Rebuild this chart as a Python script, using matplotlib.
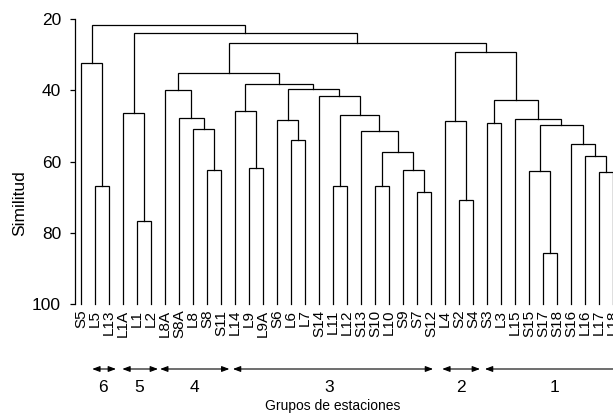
import matplotlib
matplotlib.use("Agg")
import matplotlib.pyplot as plt

plt.rcParams['font.family'] = ['Liberation Sans', 'DejaVu Sans']

# ---- data ----
leaves = ['S5', 'L5', 'L13', 'L1A', 'L1', 'L2', 'L8A', 'S8A', 'L8', 'S8', 'S11',
          'L14', 'L9', 'L9A', 'S6', 'L6', 'L7', 'S14', 'L11', 'L12', 'S13', 'S10',
          'L10', 'S9', 'S7', 'S12', 'L4', 'S2', 'S4', 'S3', 'L3', 'L15', 'S15',
          'S17', 'S18', 'S16', 'L16', 'L17', 'L18']

# merges: (child A, child B, similarity); 'N#' refers to merge number #
merge_a = ['L5', 'S5', 'L1', 'L1A', 'S8', 'L8', 'S8A', 'L8A', 'L9', 'L14',
           'L6', 'S6', 'L11', 'S10', 'S7', 'S9', 'N13', 'S13', 'N12', 'S14',
           'N11', 'N9', 'N7', 'S2', 'L4', 'S3', 'S17', 'S15', 'L17', 'L16',
           'S16', 'N27', 'L15', 'N25', 'N24', 'N22', 'N3', 'N1']
merge_b = ['L13', 'N0', 'L2', 'N2', 'S11', 'N4', 'N5', 'N6', 'L9A', 'N8',
           'L7', 'N10', 'L12', 'L10', 'S12', 'N14', 'N15', 'N16', 'N17', 'N18',
           'N19', 'N20', 'N21', 'S4', 'N23', 'L3', 'S18', 'N26', 'L18', 'N28',
           'N29', 'N30', 'N31', 'N32', 'N33', 'N34', 'N35', 'N36']
merge_h = [66.8, 32.4, 76.6, 46.3, 62.3, 50.8, 47.9, 39.9, 61.7, 45.8,
           53.9, 48.4, 66.8, 66.8, 68.5, 62.3, 57.4, 51.3, 47.0, 41.5,
           39.6, 38.3, 35.1, 70.8, 48.7, 49.3, 85.6, 62.7, 63.0, 58.5,
           55.1, 49.7, 48.2, 42.6, 29.4, 26.6, 23.9, 21.7]

group_names = ['6', '5', '4', '3', '2', '1']
# arrow extents and label positions along the leaf axis (layout)
arrow_spans = [(0.8, 2.5), (2.95, 5.5), (5.65, 10.6), (10.85, 25.15), (25.8, 28.5), (28.85, 40.5)]
group_label_x = [1.6, 4.15, 8.1, 17.7, 27.15, 33.85]

yticks = [20, 40, 60, 80, 100]

# ---- figure ----
W, H = 613, 418
fig = plt.figure(figsize=(W / 100, H / 100), dpi=100)
ax = fig.add_axes([75 / W, 1 - 304 / H, 552 / W, 285 / H])
ax.set_xlim(-6 / 14, 39)
ax.set_ylim(100, 20)

base = 100
pos = {name: (i, base) for i, name in enumerate(leaves)}
for k, (a, b, h) in enumerate(zip(merge_a, merge_b, merge_h)):
    xa, ya = pos[a]
    xb, yb = pos[b]
    ax.plot([xa, xa, xb, xb], [ya, h, h, yb], color='black', lw=0.9,
            solid_joinstyle='miter', clip_on=False)
    pos['N%d' % k] = ((xa + xb) / 2, h)

for s in ['top', 'right', 'bottom']:
    ax.spines[s].set_visible(False)
ax.spines['left'].set_linewidth(0.9)

ax.set_yticks(yticks)
ax.set_yticklabels([str(v) for v in yticks], fontsize=12.5)
ax.tick_params(axis='y', direction='out', length=3.5, width=0.9, pad=6.5)
ax.set_xticks(range(len(leaves)))
ax.set_xticklabels(leaves, rotation=90, fontsize=11)
ax.tick_params(axis='x', length=0, pad=4)

fig.text(19.6 / W, 1 - 203.5 / H, 'Similitud', rotation=90, ha='center',
         va='center', fontsize=12.5)

arrow_y = 1 - 369 / H
for (x0, x1) in arrow_spans:
    ax.annotate('', xy=(x1, arrow_y), xytext=(x0, arrow_y),
                xycoords=('data', 'figure fraction'),
                textcoords=('data', 'figure fraction'),
                arrowprops=dict(arrowstyle='<|-|>,head_length=0.45,head_width=0.17',
                                lw=0.8, color='black', shrinkA=0, shrinkB=0),
                annotation_clip=False)
for name, gx in zip(group_names, group_label_x):
    ax.annotate(name, xy=(gx, 1 - 392 / H), xycoords=('data', 'figure fraction'),
                ha='center', va='baseline', fontsize=12.5, annotation_clip=False)

fig.text(333 / W, 1 - 410 / H, 'Grupos de estaciones', ha='center',
         va='baseline', fontsize=10)

fig.savefig('out.png', dpi=100)
